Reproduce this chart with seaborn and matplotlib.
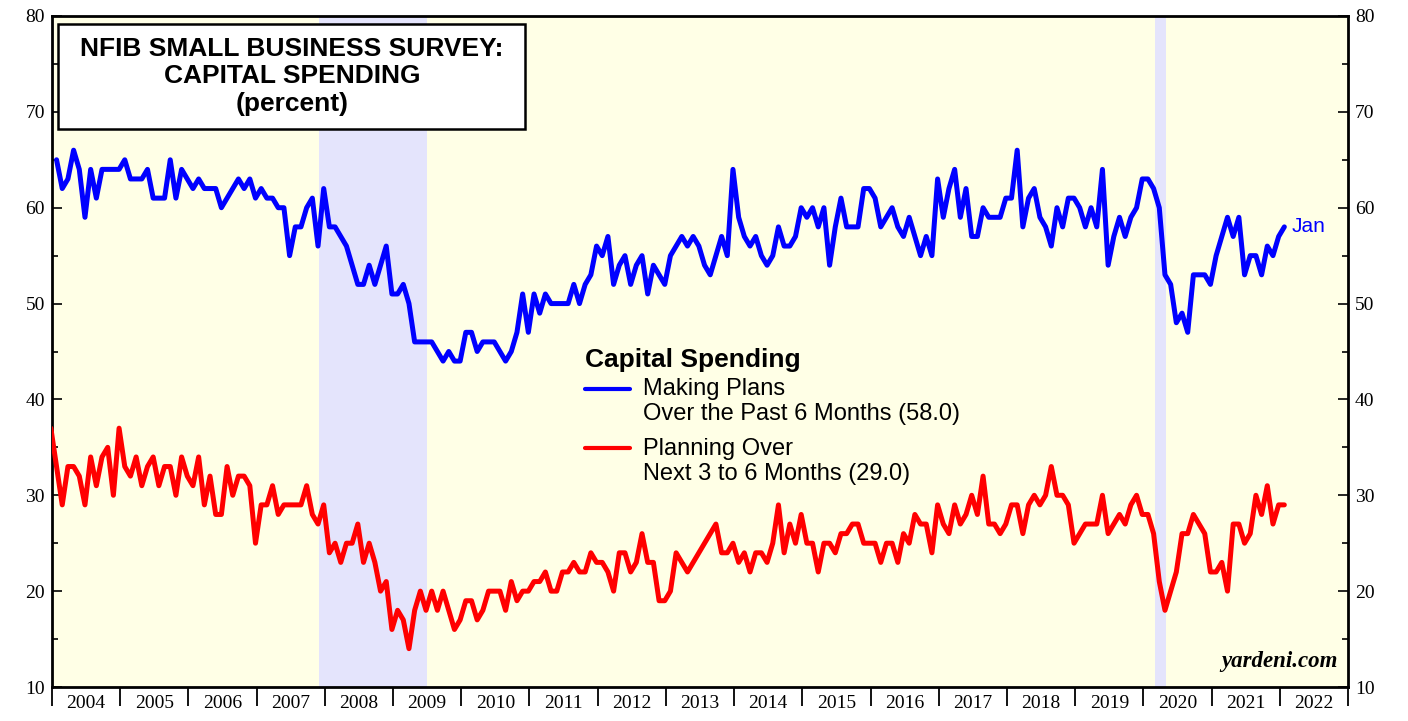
import numpy as np
import pandas as pd
import matplotlib
matplotlib.use('Agg')
import matplotlib.pyplot as plt
import seaborn as sns
from matplotlib.lines import Line2D
from matplotlib.patches import Rectangle

# making plans over the past 6 months, Jan 2004 - Jan 2022 (monthly)
made_plans = [
    65, 62, 63, 66, 64, 59, 64, 61, 64, 64, 64, 64,  # 2004
    65, 63, 63, 63, 64, 61, 61, 61, 65, 61, 64, 63,  # 2005
    62, 63, 62, 62, 62, 60, 61, 62, 63, 62, 63, 61,  # 2006
    62, 61, 61, 60, 60, 55, 58, 58, 60, 61, 56, 62,  # 2007
    58, 58, 57, 56, 54, 52, 52, 54, 52, 54, 56, 51,  # 2008
    51, 52, 50, 46, 46, 46, 46, 45, 44, 45, 44, 44,  # 2009
    47, 47, 45, 46, 46, 46, 45, 44, 45, 47, 51, 47,  # 2010
    51, 49, 51, 50, 50, 50, 50, 52, 50, 52, 53, 56,  # 2011
    55, 57, 52, 54, 55, 52, 54, 55, 51, 54, 53, 52,  # 2012
    55, 56, 57, 56, 57, 56, 54, 53, 55, 57, 55, 64,  # 2013
    59, 57, 56, 57, 55, 54, 55, 58, 56, 56, 57, 60,  # 2014
    59, 60, 58, 60, 54, 58, 61, 58, 58, 58, 62, 62,  # 2015
    61, 58, 59, 60, 58, 57, 59, 57, 55, 57, 55, 63,  # 2016
    59, 62, 64, 59, 62, 57, 57, 60, 59, 59, 59, 61,  # 2017
    61, 66, 58, 61, 62, 59, 58, 56, 60, 58, 61, 61,  # 2018
    60, 58, 60, 58, 64, 54, 57, 59, 57, 59, 60, 63,  # 2019
    63, 62, 60, 53, 52, 48, 49, 47, 53, 53, 53, 52,  # 2020
    55, 57, 59, 57, 59, 53, 55, 55, 53, 56, 55, 57,  # 2021
    58,                                              # 2022
]

# planning over next 3 to 6 months, Dec 2003 - Jan 2022 (monthly)
planning = [
    37,                                              # Dec 2003
    33, 29, 33, 33, 32, 29, 34, 31, 34, 35, 30, 37,  # 2004
    33, 32, 34, 31, 33, 34, 31, 33, 33, 30, 34, 32,  # 2005
    31, 34, 29, 32, 28, 28, 33, 30, 32, 32, 31, 25,  # 2006
    29, 29, 31, 28, 29, 29, 29, 29, 31, 28, 27, 29,  # 2007
    24, 25, 23, 25, 25, 27, 23, 25, 23, 20, 21, 16,  # 2008
    18, 17, 14, 18, 20, 18, 20, 18, 20, 18, 16, 17,  # 2009
    19, 19, 17, 18, 20, 20, 20, 18, 21, 19, 20, 20,  # 2010
    21, 21, 22, 20, 20, 22, 22, 23, 22, 22, 24, 23,  # 2011
    23, 22, 20, 24, 24, 22, 23, 26, 23, 23, 19, 19,  # 2012
    20, 24, 23, 22, 23, 24, 25, 26, 27, 24, 24, 25,  # 2013
    23, 24, 22, 24, 24, 23, 25, 29, 24, 27, 25, 28,  # 2014
    25, 25, 22, 25, 25, 24, 26, 26, 27, 27, 25, 25,  # 2015
    25, 23, 25, 25, 23, 26, 25, 28, 27, 27, 24, 29,  # 2016
    27, 26, 29, 27, 28, 30, 28, 32, 27, 27, 26, 27,  # 2017
    29, 29, 26, 29, 30, 29, 30, 33, 30, 30, 29, 25,  # 2018
    26, 27, 27, 27, 30, 26, 27, 28, 27, 29, 30, 28,  # 2019
    28, 26, 21, 18, 20, 22, 26, 26, 28, 27, 26, 22,  # 2020
    22, 23, 20, 27, 27, 25, 26, 30, 28, 31, 27, 29,  # 2021
    29,                                              # 2022
]

recessions = [(2007 + 11/12, 2009.5), (2020 + 2/12, 2020 + 4/12)]
years = list(range(2004, 2023))

# monthly positions in decimal years
df_made = pd.DataFrame({'data': 2004 + (np.arange(len(made_plans)) + 0.8) / 12,
                        'valor': made_plans})
df_plan = pd.DataFrame({'data': 2004 + (np.arange(len(planning)) - 0.2) / 12,
                        'valor': planning})

sns.set_style('ticks')
plt.rcParams['font.family'] = ['Liberation Sans', 'DejaVu Sans']
plt.rcParams['text.color'] = 'black'
plt.rcParams['xtick.color'] = 'black'
plt.rcParams['ytick.color'] = 'black'

fig = plt.figure(figsize=(14.08, 7.21), dpi=100)
ax = fig.add_axes([52/1408, 1 - 687/721, 1296/1408, 671/721])
ax.set_facecolor('#FFFFE6')

for a, b in recessions:
    ax.axvspan(a, b, color='#E4E4FC', lw=0, zorder=0)

sns.lineplot(x='data', y='valor', data=df_made, color='#0000FF', linewidth=3.6,
             ax=ax, zorder=3)
sns.lineplot(x='data', y='valor', data=df_plan, color='#FF0000', linewidth=3.6,
             ax=ax, zorder=3)

ax.set_xlim(2004, 2023)
ax.set_ylim(10, 80)
ax.set_xlabel('')
ax.set_ylabel('')

# year boundaries as ticks, year names between them
ax.set_xticks(range(2004, 2024))
ax.set_xticklabels([])
ax.set_xticks([y + 0.5 for y in years], minor=True)
ax.set_xticklabels([str(y) for y in years], minor=True)
ax.tick_params(axis='x', which='major', direction='out', length=14, width=1.3,
               top=False)
ax.tick_params(axis='x', which='minor', length=0, pad=6, labelsize=14)
for lab in ax.get_xticklabels(minor=True):
    lab.set_family('Liberation Serif')

ax.set_yticks(range(10, 81, 10))
ax.set_yticks(range(15, 80, 10), minor=True)
ax.tick_params(axis='y', which='both', direction='in', left=True, right=True,
               labelleft=True, labelright=True, labelsize=14, width=1.2)
ax.tick_params(axis='y', which='major', length=7, pad=5)
ax.tick_params(axis='y', which='minor', length=4)
for lab in ax.get_yticklabels():
    lab.set_family('Liberation Serif')

for s in ax.spines.values():
    s.set_visible(True)
    s.set_linewidth(2)
    s.set_color('black')

# title box
ax.add_patch(Rectangle((6/1296, 1 - 113/671), 467/1296, 105/671,
                       transform=ax.transAxes, facecolor='white',
                       edgecolor='black', lw=1.8, zorder=5))
ax.text(0.185, 0.91, 'NFIB SMALL BUSINESS SURVEY:\nCAPITAL SPENDING\n(percent)',
        transform=ax.transAxes, ha='center', va='center', fontsize=19,
        fontweight='bold', linespacing=1.2, zorder=6)

# legend
ax.text(0.4113, 0.4873, 'Capital Spending', transform=ax.transAxes,
        fontsize=19, fontweight='bold', va='center', ha='left')
ax.add_line(Line2D([0.4113, 0.4460], [0.4441, 0.4441], transform=ax.transAxes,
                   color='#0000FF', lw=3))
ax.text(0.456, 0.4441 - 0.0186, 'Making Plans\nOver the Past 6 Months (58.0)',
        transform=ax.transAxes, fontsize=17, va='center', ha='left',
        linespacing=1.17)
ax.add_line(Line2D([0.4113, 0.4460], [0.3562, 0.3562], transform=ax.transAxes,
                   color='#FF0000', lw=3))
ax.text(0.456, 0.3562 - 0.0195, 'Planning Over\nNext 3 to 6 Months (29.0)',
        transform=ax.transAxes, fontsize=17, va='center', ha='left',
        linespacing=1.17)

ax.text(df_made['data'].iloc[-1] + 0.1, 58.0, 'Jan', color='#0000FF',
        fontsize=15, va='center', ha='left')

ax.text(0.992, 0.022, 'yardeni.com', transform=ax.transAxes, ha='right',
        va='bottom', fontsize=16.5, fontweight='bold', fontstyle='italic',
        family='Liberation Serif')

fig.savefig('out.png', dpi=100)
